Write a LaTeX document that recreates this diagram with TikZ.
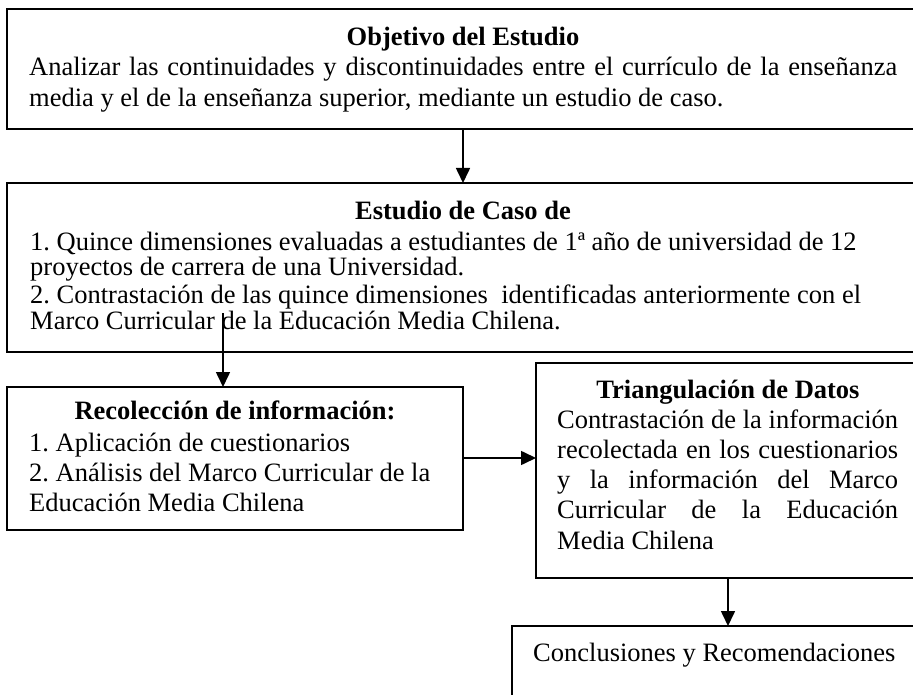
\documentclass[tikz,border=0pt]{standalone}
\usepackage{fontspec}
\setmainfont{Liberation Serif}
\usetikzlibrary{arrows.meta}
\frenchspacing
\begin{document}
\begin{tikzpicture}[x=1pt,y=-1pt,
  box/.style={draw, line width=1.6pt, inner sep=0pt, outer sep=0pt, anchor=north west},
  lbl/.style={inner sep=0pt, font=\fontsize{26.5}{30}\selectfont},
  ttl/.style={lbl, font=\fontsize{26.5}{30}\selectfont\bfseries, anchor=base},
  ln/.style={lbl, anchor=base west},
  arr/.style={line width=1.6pt, -{Triangle[length=15pt,width=14pt]}}]
\useasboundingbox (0,0) rectangle (913,695);
% boxes
\node[box, minimum width=912pt, minimum height=120pt] (b1) at (7,9) {};
\node[box, minimum width=912pt, minimum height=169pt] (b2) at (7,183) {};
\node[box, minimum width=456pt, minimum height=143pt] (b3) at (7,387) {};
\node[box, minimum width=390pt, minimum height=215pt] (b4) at (536,363) {};
\node[box, minimum width=410pt, minimum height=80pt] (b5) at (512,626) {};
% texts box 1
\node[ttl] (t1) at (463,46) {Objetivo del Estudio};
\node[ln] (t1a) at (29,76) {\makebox[868pt][s]{Analizar las continuidades y discontinuidades entre el currículo de la enseñanza}};
\node[ln] (t1b) at (29,107) {media y el de la enseñanza superior, mediante un estudio de caso.};
% box 2
\node[ttl] (t2) at (463,220) {Estudio de Caso de};
\node[ln] (t2a) at (30,251) {1. Quince dimensiones evaluadas a estudiantes de 1ª año de universidad de 12};
\node[ln] (t2b) at (30,276) {proyectos de carrera de una Universidad.};
\node[ln] (t2c) at (30,303) {2. Contrastación de las quince dimensiones\ \ identificadas anteriormente con el};
\node[ln] (t2d) at (30,329) {Marco Curricular de la Educación Media Chilena.};
% box 3
\node[ttl] (t3) at (235,419) {Recolección de información:};
\node[ln] (t3a) at (29,451) {1. Aplicación de cuestionarios};
\node[ln] (t3b) at (29,481) {2. Análisis del Marco Curricular de la};
\node[ln] (t3c) at (29,511) {Educación Media Chilena};
% box 4
\node[ttl] (t4) at (728,398) {Triangulación de Datos};
\node[ln] (t4a) at (557,428) {\makebox[341pt][s]{Contrastación de la información}};
\node[ln] (t4b) at (557,458) {\makebox[341pt][s]{recolectada en los cuestionarios}};
\node[ln] (t4c) at (557,488) {\makebox[341pt][s]{y la información del Marco}};
\node[ln] (t4d) at (557,518) {\makebox[341pt][s]{Curricular de la Educación}};
\node[ln] (t4e) at (557,549) {Media Chilena};
% box 5
\node[ln] (t5) at (533,661) {Conclusiones y Recomendaciones};
% arrows
\coordinate (a1) at (463,0);
\draw[arr] (b1.south -| a1) -- (b2.north -| a1);
\coordinate (a2s) at (223,313);
\draw[arr] (a2s) -- (b3.north -| a2s);
\coordinate (a3) at (0,458);
\draw[arr] (b3.east |- a3) -- (b4.west |- a3);
\coordinate (a4) at (728,0);
\draw[arr] (b4.south -| a4) -- (b5.north -| a4);
\end{tikzpicture}
\end{document}
